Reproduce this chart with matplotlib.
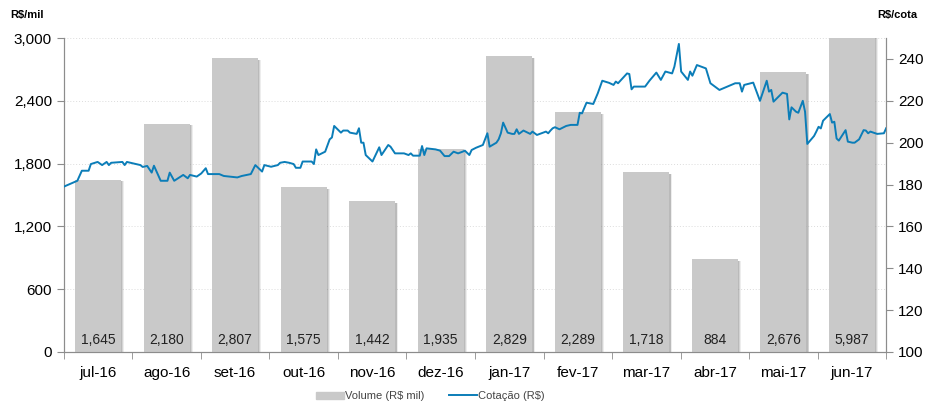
import numpy as np
import matplotlib.pyplot as plt
from matplotlib.patches import Patch
from matplotlib.lines import Line2D

plt.rcParams['font.family'] = ['Liberation Sans', 'DejaVu Sans']

months = ['jul-16', 'ago-16', 'set-16', 'out-16', 'nov-16', 'dez-16',
          'jan-17', 'fev-17', 'mar-17', 'abr-17', 'mai-17', 'jun-17']
volume = [1645, 2180, 2807, 1575, 1442, 1935, 2829, 2289, 1718, 884, 2676, 5987]

# price series: days since 2016-07-01 and quote (R$)
price_days = [0, 6, 8, 11, 12, 15, 17, 19, 20, 21, 26, 27, 28, 34, 35, 37, 39, 40,
              43, 46, 47, 49, 53, 55, 56, 59, 61, 63, 64, 69, 71, 77, 79, 83, 85,
              88, 89, 92, 95, 96, 98, 100, 102, 103, 105, 106, 110, 111, 112, 113,
              116, 118, 119, 120, 123, 124, 126, 127, 130, 131, 132, 133, 134, 137,
              140, 141, 144, 145, 147, 151, 153, 154, 155, 158, 159, 160, 161, 165,
              167, 169, 171, 173, 175, 177, 178, 180, 181, 183, 186, 188, 189, 192,
              193, 194, 195, 197, 199, 200, 201, 202, 204, 207, 208, 210, 214, 215,
              216, 217, 218, 220, 223, 225, 228, 229, 230, 232, 235, 237, 239, 242,
              244, 245, 246, 250, 251, 252, 253, 258, 260, 263, 265, 267, 270, 271,
              273, 274, 277, 278, 279, 281, 285, 287, 291, 298, 300, 301, 302, 306,
              309, 312, 313, 314, 315, 319, 321, 322, 323, 325, 326, 328, 329, 330,
              333, 334, 335, 336, 337, 340, 341, 342, 343, 344, 347, 348, 350, 351,
              353, 355, 356, 357, 358, 361, 364, 365]
price = [179.0, 181.8, 186.6, 186.6, 189.8, 190.8, 189.3, 190.8, 189.3, 190.4,
         190.8, 189.3, 190.8, 189.3, 188.4, 188.9, 185.7, 189.0,
         181.8, 181.8, 185.7, 181.8, 184.6, 183.0, 184.6, 183.8, 185.3, 187.8,
         185.0, 185.0, 184.1, 183.4, 184.1, 185.0, 189.3,
         186.2, 189.3, 188.5, 189.3, 190.4, 190.8, 190.4, 189.8, 188.0, 188.0,
         191.0, 191.0, 189.8, 196.8, 194.1,
         195.7, 201.6, 202.5, 208.0, 204.8, 205.8, 205.8, 204.8, 204.2, 206.9,
         200.0, 200.0, 194.1, 191.0,
         197.8, 194.1, 198.9, 198.1, 194.9, 194.9, 194.1, 194.9, 193.8, 193.8,
         198.4, 194.1, 197.3, 196.8,
         196.2, 193.6, 193.6, 195.7, 194.9, 195.7, 196.2, 194.1, 196.5, 197.6,
         198.9, 204.5, 198.1, 200.0,
         201.6, 204.5, 209.6, 204.8, 204.2, 204.2, 206.4, 204.2, 205.8, 204.2,
         205.3, 203.7, 205.3, 204.5,
         205.8, 206.9, 207.4, 206.4, 208.0, 208.5, 208.5, 214.3, 214.0, 219.1,
         218.5, 223.6, 229.6, 228.6,
         227.6, 229.2, 228.4, 233.1, 232.8, 225.5, 226.8, 226.8, 229.7, 233.5,
         230.0, 234.0, 233.1, 236.3,
         247.2, 234.0, 230.0, 234.0, 232.0, 237.1, 235.5, 228.4, 225.2, 228.4,
         228.4, 224.4, 227.6, 228.7,
         220.0, 229.6, 224.4, 225.2, 219.6, 223.9, 223.3, 211.1, 216.9, 214.8,
         214.3, 220.0, 214.8, 199.4,
         203.2, 205.3, 207.6, 206.8, 210.5, 213.7, 209.6, 210.0, 202.0, 201.0,
         206.0, 200.5, 200.0, 200.0,
         201.6, 206.0, 205.8, 204.5, 205.3, 204.2, 204.5, 206.9]

bar_color = '#c9c9c9'
line_color = '#0b7db8'
axis_color = '#8c8c8c'

fig = plt.figure(figsize=(9.25, 4.03), dpi=100)
ax = fig.add_axes([0.069, 0.1266, 0.889, 0.779])

x = np.arange(len(months))
w = 0.67
# soft shadow behind bars (a few faint layers)
for off, a in [(0.045, 0.15), (0.032, 0.25), (0.02, 0.35)]:
    ax.bar(x + off, volume, w, bottom=-15, color='#8a8a8a', alpha=a,
           linewidth=0, zorder=2)
ax.bar(x, volume, w, color=bar_color, linewidth=0, zorder=3)

for xi, v in zip(x, volume):
    ax.text(xi, 110, f'{v:,}', ha='center', va='center', fontsize=10,
            color='#222222', zorder=5)

ax.set_xlim(-0.5, len(months) - 0.5)
ax.set_ylim(0, 3000)
ax.set_yticks(np.arange(0, 3001, 600))
ax.set_yticklabels([f'{v:,}' for v in range(0, 3001, 600)])
ax.set_xticks(x)
ax.set_xticklabels(months)
ax.set_xticks(np.arange(-0.5, len(months), 1), minor=True)
ax.tick_params(axis='x', which='major', length=0, labelsize=11, pad=10)
ax.tick_params(axis='x', which='minor', length=5, color=axis_color)
ax.tick_params(axis='y', labelsize=11, length=5, color=axis_color)
ax.grid(axis='y', linestyle=(0, (1, 2)), color='#dcdcdc', linewidth=0.7)
ax.set_axisbelow(True)
ax.spines['top'].set_visible(False)
for s in ['left', 'right', 'bottom']:
    ax.spines[s].set_color(axis_color)

ax2 = ax.twinx()
pos = -0.5 + np.array(price_days) / 365 * 12
ax2.plot(pos, price, color=line_color, linewidth=1.4, zorder=4)
ax2.set_ylim(100, 250)
ax2.set_yticks(np.arange(100, 241, 20))
ax2.tick_params(axis='y', labelsize=11, length=5, color=axis_color)
ax2.spines['top'].set_visible(False)
for s in ['left', 'right', 'bottom']:
    ax2.spines[s].set_color(axis_color)
ax2.set_xlim(-0.5, len(months) - 0.5)

fig.text(0.011, 0.955, 'R$/mil', fontsize=8, fontweight='bold')
fig.text(0.948, 0.955, 'R$/cota', fontsize=8, fontweight='bold')

handles = [Patch(color=bar_color), Line2D([0], [0], color=line_color, lw=1.4)]
fig.legend(handles, ['Volume (R$ mil)', 'Cotação (R$)'], loc='lower center',
           bbox_to_anchor=(0.465, -0.02), ncol=2, frameon=False, fontsize=8,
           handlelength=2.5, handleheight=0.6, columnspacing=2.2, handletextpad=0.1,
           labelcolor='#444444')

fig.savefig('out.png', dpi=100)
